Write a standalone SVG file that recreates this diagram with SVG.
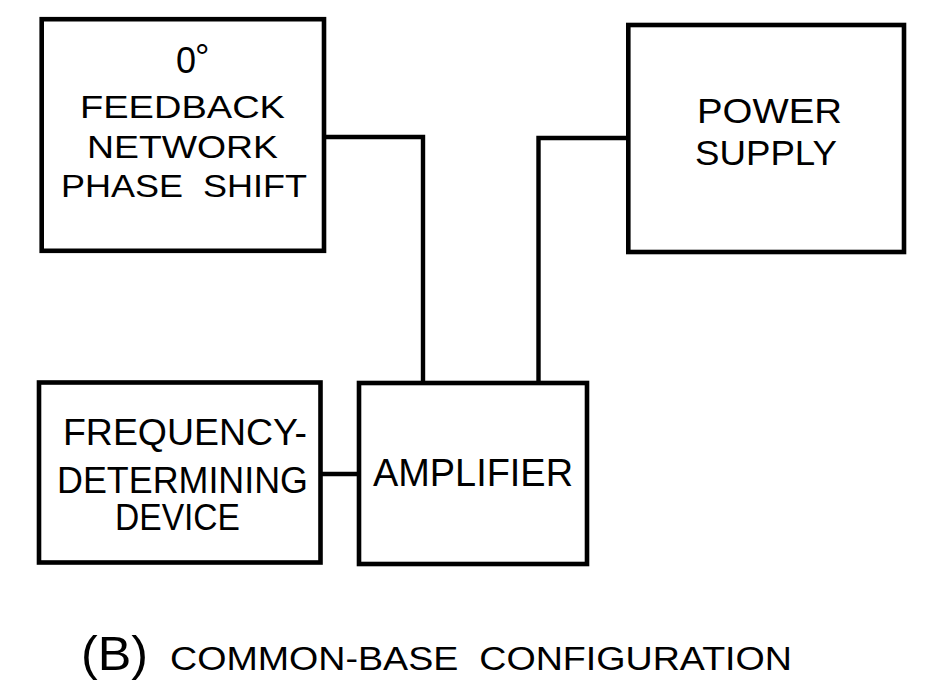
<svg xmlns="http://www.w3.org/2000/svg" width="932" height="694" viewBox="0 0 932 694">
<style>
.box{fill:none;stroke:#000;stroke-width:4.6;stroke-linejoin:miter}
.wire{fill:none;stroke:#000;stroke-width:4.4;stroke-linejoin:miter}
.t{font-family:"Liberation Sans",Arial,sans-serif;fill:#000;white-space:pre}
</style>
<rect width="932" height="694" fill="#fff"/>
<g id="connectors">
<polyline class="wire" points="324,137 423,137 423,383"/>
<polyline class="wire" points="628,138 538.5,138 538.5,383"/>
<line class="wire" x1="320.5" y1="474" x2="359" y2="474"/>
</g>
<g id="feedback">
<rect class="box" x="41.7" y="19.2" width="282.3" height="231.6"/>
<text class="t" x="176" y="73" font-size="36">0<tspan dy="-3" dx="-1">°</tspan></text>
<text class="t" x="80" y="118" font-size="31.5" textLength="205" lengthAdjust="spacingAndGlyphs">FEEDBACK</text>
<text class="t" x="87" y="158" font-size="31.5" textLength="191" lengthAdjust="spacingAndGlyphs">NETWORK</text>
<text class="t" x="61" y="197" font-size="31.5" textLength="246" lengthAdjust="spacingAndGlyphs">PHASE  SHIFT</text>
</g>
<g id="power">
<rect class="box" x="628.3" y="25" width="275.7" height="227"/>
<text class="t" x="697" y="123" font-size="35" textLength="145" lengthAdjust="spacingAndGlyphs">POWER</text>
<text class="t" x="695" y="165" font-size="35" textLength="142" lengthAdjust="spacingAndGlyphs">SUPPLY</text>
</g>
<g id="frequency">
<rect class="box" x="39" y="382.5" width="281.5" height="180"/>
<text class="t" x="63" y="445" font-size="36" textLength="244" lengthAdjust="spacingAndGlyphs">FREQUENCY-</text>
<text class="t" x="57" y="493" font-size="36" textLength="251" lengthAdjust="spacingAndGlyphs">DETERMINING</text>
<text class="t" x="115" y="530" font-size="36" textLength="125" lengthAdjust="spacingAndGlyphs">DEVICE</text>
</g>
<g id="amplifier">
<rect class="box" x="359" y="383" width="228" height="181"/>
<text class="t" x="373" y="486" font-size="38" textLength="200" lengthAdjust="spacingAndGlyphs">AMPLIFIER</text>
</g>
<g id="caption">
<text class="t" x="81" y="670" font-size="48" textLength="67" lengthAdjust="spacingAndGlyphs">(B)</text>
<text class="t" x="170" y="670" font-size="33" textLength="622" lengthAdjust="spacingAndGlyphs">COMMON-BASE  CONFIGURATION</text>
</g>
</svg>
